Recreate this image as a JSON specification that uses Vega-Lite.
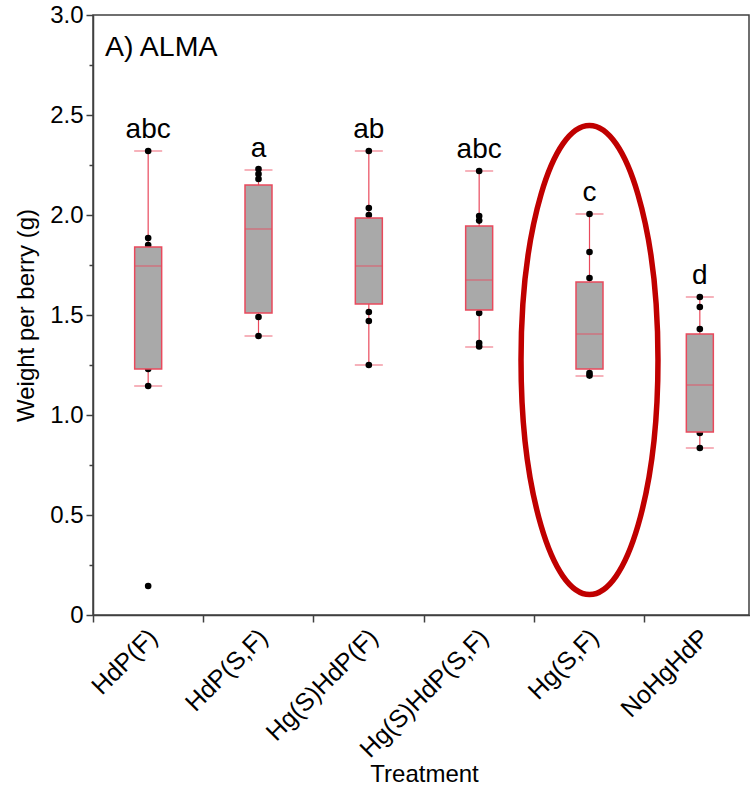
{
  "$schema": "https://vega.github.io/schema/vega-lite/v6.json",
  "width": 656,
  "height": 600,
  "autosize": {"type": "none"},
  "padding": {"left": 93, "top": 15, "right": 1, "bottom": 173},
  "title": {
    "text": "A) ALMA",
    "anchor": "start",
    "frame": "group",
    "orient": "top",
    "offset": -81,
    "dx": 12,
    "baseline": "alphabetic",
    "fontSize": 28.5,
    "fontWeight": "normal",
    "color": "#000000"
  },
  "config": {
    "font": "Liberation Sans",
    "view": {"stroke": "#404040", "strokeWidth": 1.5},
    "axis": {
      "grid": false,
      "domainColor": "#404040",
      "domainWidth": 1.5,
      "tickColor": "#404040",
      "tickWidth": 1.5,
      "labelColor": "#000000",
      "titleColor": "#000000",
      "titleFontWeight": "normal"
    }
  },
  "datasets": {
    "stats": [
      {"treatment": "HdP(F)", "lower": 1.145, "q1": 1.23, "median": 1.745, "q3": 1.84, "upper": 2.32, "group": "abc"},
      {"treatment": "HdP(S,F)", "lower": 1.395, "q1": 1.51, "median": 1.93, "q3": 2.15, "upper": 2.225, "group": "a"},
      {"treatment": "Hg(S)HdP(F)", "lower": 1.25, "q1": 1.555, "median": 1.745, "q3": 1.985, "upper": 2.32, "group": "ab"},
      {"treatment": "Hg(S)HdP(S,F)", "lower": 1.34, "q1": 1.525, "median": 1.675, "q3": 1.945, "upper": 2.22, "group": "abc"},
      {"treatment": "Hg(S,F)", "lower": 1.195, "q1": 1.23, "median": 1.405, "q3": 1.665, "upper": 2.005, "group": "c"},
      {"treatment": "NoHgHdP", "lower": 0.835, "q1": 0.915, "median": 1.15, "q3": 1.405, "upper": 1.59, "group": "d"}
    ],
    "points": [
      {"treatment": "HdP(F)", "weight": 2.32},
      {"treatment": "HdP(F)", "weight": 1.885},
      {"treatment": "HdP(F)", "weight": 1.85},
      {"treatment": "HdP(F)", "weight": 1.23},
      {"treatment": "HdP(F)", "weight": 1.145},
      {"treatment": "HdP(F)", "weight": 0.145},
      {"treatment": "HdP(S,F)", "weight": 2.23},
      {"treatment": "HdP(S,F)", "weight": 2.205},
      {"treatment": "HdP(S,F)", "weight": 2.18},
      {"treatment": "HdP(S,F)", "weight": 1.49},
      {"treatment": "HdP(S,F)", "weight": 1.395},
      {"treatment": "Hg(S)HdP(F)", "weight": 2.32},
      {"treatment": "Hg(S)HdP(F)", "weight": 2.035},
      {"treatment": "Hg(S)HdP(F)", "weight": 2.0},
      {"treatment": "Hg(S)HdP(F)", "weight": 1.515},
      {"treatment": "Hg(S)HdP(F)", "weight": 1.47},
      {"treatment": "Hg(S)HdP(F)", "weight": 1.25},
      {"treatment": "Hg(S)HdP(S,F)", "weight": 2.22},
      {"treatment": "Hg(S)HdP(S,F)", "weight": 1.995},
      {"treatment": "Hg(S)HdP(S,F)", "weight": 1.972},
      {"treatment": "Hg(S)HdP(S,F)", "weight": 1.51},
      {"treatment": "Hg(S)HdP(S,F)", "weight": 1.36},
      {"treatment": "Hg(S)HdP(S,F)", "weight": 1.343},
      {"treatment": "Hg(S,F)", "weight": 2.005},
      {"treatment": "Hg(S,F)", "weight": 1.815},
      {"treatment": "Hg(S,F)", "weight": 1.685},
      {"treatment": "Hg(S,F)", "weight": 1.21},
      {"treatment": "Hg(S,F)", "weight": 1.197},
      {"treatment": "NoHgHdP", "weight": 1.59},
      {"treatment": "NoHgHdP", "weight": 1.54},
      {"treatment": "NoHgHdP", "weight": 1.43},
      {"treatment": "NoHgHdP", "weight": 0.91},
      {"treatment": "NoHgHdP", "weight": 0.835}
    ]
  },
  "encoding": {
    "x": {
      "field": "treatment",
      "type": "nominal",
      "sort": null,
      "scale": {
        "domain": ["HdP(F)", "HdP(S,F)", "Hg(S)HdP(F)", "Hg(S)HdP(S,F)", "Hg(S,F)", "NoHgHdP"],
        "range": [0, 662],
        "paddingInner": 0,
        "paddingOuter": 0
      },
      "axis": {
        "title": "Treatment",
        "titleFontSize": 24,
        "titlePadding": 0,
        "labelAngle": -45,
        "labelAlign": "right",
        "labelBaseline": "middle",
        "labelFontSize": 25,
        "labelPadding": 11,
        "labelOffset": 5,
        "bandPosition": 0,
        "tickSize": 7
      }
    },
    "y": {
      "type": "quantitative",
      "scale": {"domain": [0, 3], "nice": false},
      "axis": {
        "title": "Weight per berry (g)",
        "titleFontSize": 24,
        "titlePadding": 11,
        "values": [0, 0.25, 0.5, 0.75, 1, 1.25, 1.5, 1.75, 2, 2.25, 2.5, 2.75, 3],
        "labelExpr": "datum.value == 0 ? '0' : (abs(datum.value * 2 - round(datum.value * 2)) > 0.01 ? '' : format(datum.value, '.1f'))",
        "tickSize": {"condition": {"test": "abs(datum.value * 2 - round(datum.value * 2)) > 0.01", "value": 4}, "value": 7},
        "labelFontSize": 24,
        "labelPadding": 3
      }
    }
  },
  "layer": [
    {
      "data": {"name": "stats"},
      "mark": {"type": "rule", "color": "#E9495C", "strokeWidth": 1.2},
      "encoding": {"y": {"field": "lower", "type": "quantitative"}, "y2": {"field": "upper"}}
    },
    {
      "data": {"name": "stats"},
      "mark": {"type": "tick", "size": 28, "thickness": 1.2, "color": "#E9495C"},
      "encoding": {"y": {"field": "lower", "type": "quantitative"}}
    },
    {
      "data": {"name": "stats"},
      "mark": {"type": "tick", "size": 28, "thickness": 1.2, "color": "#E9495C"},
      "encoding": {"y": {"field": "upper", "type": "quantitative"}}
    },
    {
      "data": {"name": "points"},
      "mark": {"type": "circle", "size": 44, "color": "#000000", "opacity": 1},
      "encoding": {"y": {"field": "weight", "type": "quantitative"}}
    },
    {
      "data": {"name": "stats"},
      "mark": {"type": "bar", "width": 27, "fill": "#A9A9A9", "stroke": "#E9495C", "strokeWidth": 1.5},
      "encoding": {"y": {"field": "q1", "type": "quantitative"}, "y2": {"field": "q3"}}
    },
    {
      "data": {"name": "stats"},
      "mark": {"type": "tick", "size": 27, "thickness": 1.2, "color": "#E9495C"},
      "encoding": {"y": {"field": "median", "type": "quantitative"}}
    },
    {
      "data": {"name": "stats"},
      "mark": {"type": "text", "fontSize": 28, "color": "#000000", "baseline": "alphabetic", "align": "center", "dy": -13},
      "encoding": {"y": {"field": "upper", "type": "quantitative"}, "text": {"field": "group"}}
    },
    {
      "data": {"values": [{}]},
      "mark": {
        "type": "point",
        "shape": "M -0.292 0 A 0.292 1 0 1 0 0.292 0 A 0.292 1 0 1 0 -0.292 0 Z",
        "size": 219961,
        "filled": false,
        "stroke": "#C00000",
        "strokeWidth": 5.5,
        "opacity": 1
      },
      "encoding": {
        "x": {"datum": "Hg(S,F)", "type": "nominal"},
        "y": {"datum": 1.275, "type": "quantitative"}
      }
    }
  ]
}
